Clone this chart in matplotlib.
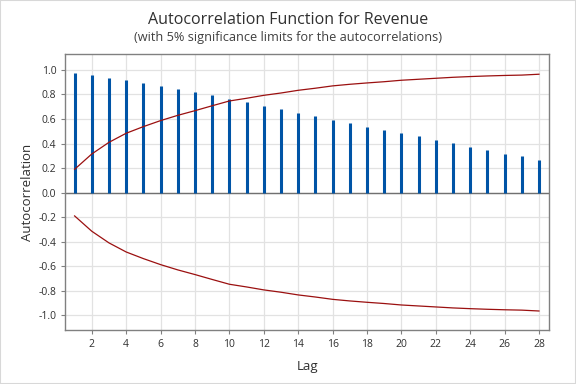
import numpy as np
import matplotlib
matplotlib.use("Agg")
import matplotlib.pyplot as plt

# ── data ──
lags = np.arange(1, 29)
acf = [0.978, 0.959, 0.937, 0.918, 0.894, 0.872, 0.845, 0.821, 0.792, 0.764,
       0.739, 0.709, 0.679, 0.652, 0.622, 0.595, 0.568, 0.538, 0.511, 0.484,
       0.459, 0.429, 0.405, 0.372, 0.348, 0.315, 0.296, 0.266]
upper_limit = [0.190, 0.315, 0.410, 0.484, 0.538, 0.587, 0.630, 0.668, 0.708, 0.747,
               0.769, 0.793, 0.812, 0.834, 0.851, 0.870, 0.883, 0.894, 0.904, 0.916,
               0.924, 0.932, 0.940, 0.946, 0.951, 0.955, 0.958, 0.965]
lower_limit = [-v for v in upper_limit]
xticks = list(range(2, 29, 2))
yticks = [-1.0, -0.8, -0.6, -0.4, -0.2, 0.0, 0.2, 0.4, 0.6, 0.8, 1.0]

plt.rcParams['font.family'] = ['Open Sans', 'DejaVu Sans']

fig = plt.figure(figsize=(5.76, 3.84), dpi=100)
ax = fig.add_axes([0.1134, 0.1406, 0.8402, 0.7188])

ax.grid(True, color="#e2e2e2", linewidth=0.9, zorder=0)
ax.axhline(0, color="#707070", linewidth=1.0, zorder=2)
ax.vlines(lags, 0, acf, color="#0054a6", linewidth=2.2, zorder=3)
ax.plot(lags, upper_limit, color="#9b1010", linewidth=0.9, zorder=4)
ax.plot(lags, lower_limit, color="#9b1010", linewidth=0.9, zorder=4)

ax.set_xlim(0.46, 28.6)
ax.set_ylim(-1.12, 1.13)
ax.set_xticks(xticks)
ax.set_yticks(yticks)
ax.set_yticklabels([f"{v:.1f}" for v in yticks])
ax.tick_params(labelsize=7.5, colors="#303030", length=3, color="#808080", width=0.8)
for s in ax.spines.values():
    s.set_color("#808080")
    s.set_linewidth(1.0)

ax.set_xlabel("Lag", fontsize=9.5, color="#303030", labelpad=7)
ax.set_ylabel("Autocorrelation", fontsize=9.5, color="#303030", labelpad=3)

fig.text(0.5, 0.947, "Autocorrelation Function for Revenue", ha="center", va="center",
         fontsize=11.5, color="#303030")
fig.text(0.5, 0.902, "(with 5% significance limits for the autocorrelations)", ha="center",
         va="center", fontsize=9.2, color="#404040")

fig.patches.append(plt.Rectangle((0, 0), 1, 1, transform=fig.transFigure, fill=False,
                                 edgecolor="#d8d8d8", linewidth=1.5))

fig.savefig("out.png", dpi=100)
